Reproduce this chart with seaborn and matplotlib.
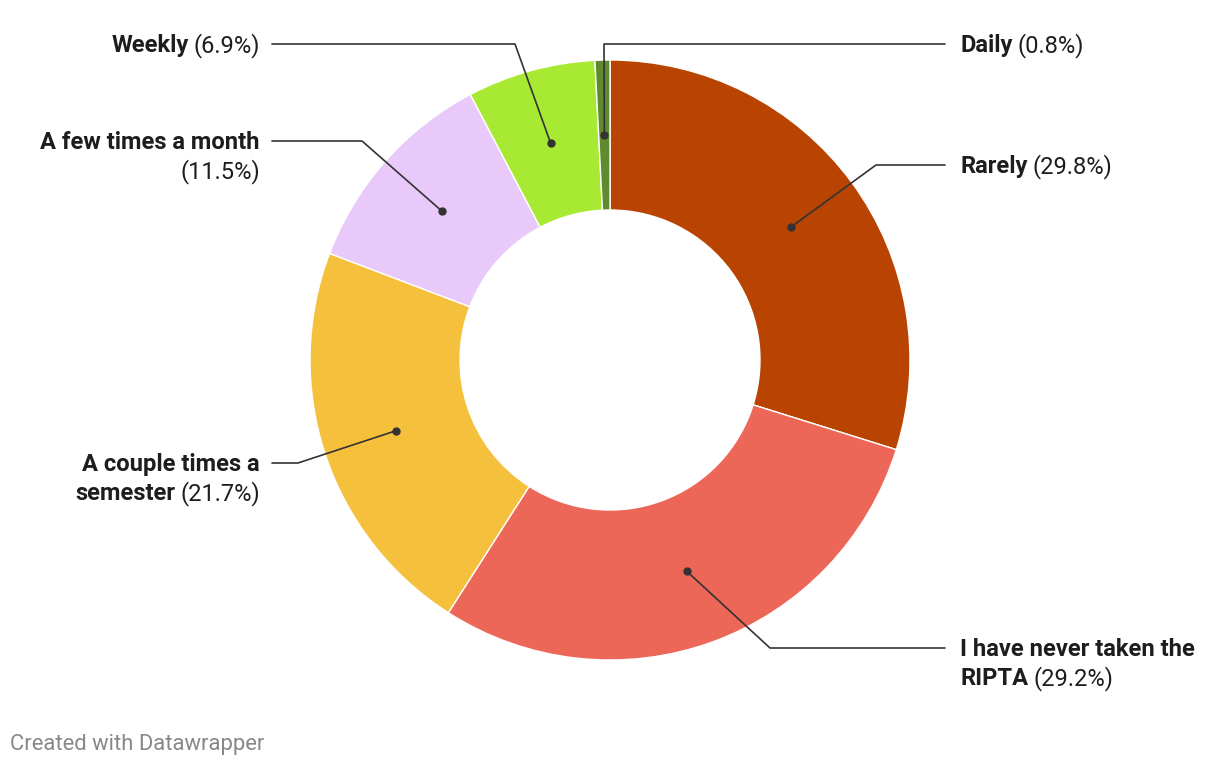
import matplotlib
matplotlib.use("Agg")
import matplotlib.pyplot as plt
import seaborn as sns
import numpy as np

sns.set_theme(style="white")
plt.rcParams['font.family'] = ['Roboto', 'DejaVu Sans']

# ---- data ----
categories = ["Rarely", "I have never taken the RIPTA", "A couple times a semester",
              "A few times a month", "Weekly", "Daily"]
values = [29.8, 29.2, 21.7, 11.5, 6.9, 0.8]
colors = ["#b94402", "#ec6758", "#f5c03b", "#e8c9f9", "#a8e933", "#5f8a2d"]

# label layout: bold lines (name wrapped), whether pct goes on own line
name_lines = {
    "Rarely": ["Rarely"],
    "I have never taken the RIPTA": ["I have never taken the", "RIPTA"],
    "A couple times a semester": ["A couple times a", "semester"],
    "A few times a month": ["A few times a month"],
    "Weekly": ["Weekly"],
    "Daily": ["Daily"],
}
pct_own_line = {"A few times a month"}
# (side, label y of first line, elbow x)
layout = {
    "Rarely": ("right", 165, 876),
    "I have never taken the RIPTA": ("right", 648, 770),
    "A couple times a semester": ("left", 463, 298),
    "A few times a month": ("left", 141, 362),
    "Weekly": ("left", 44, 515),
    "Daily": ("right", 44, 604),
}

W, H = 1220, 766
fig = plt.figure(figsize=(W / 100, H / 100), dpi=100)
ax = fig.add_axes([0, 0, 1, 1])
cx, cy, R, width = 610, 360, 300, 150

wedges, _ = ax.pie(values, colors=colors, startangle=-90, counterclock=True,
                   center=(cx, cy), radius=R, frame=True,
                   wedgeprops=dict(width=width, edgecolor="white", linewidth=1))
ax.set_xlim(0, W)
ax.set_ylim(H, 0)
ax.set_aspect("equal")
ax.axis("off")

FS = 17.1
LINE_H = 29
line_col = "#333333"
x_right_label, x_right_line = 960, 945
x_left_label, x_left_line = 260, 272

renderer = fig.canvas.get_renderer()

def text_w(t):
    return t.get_window_extent(renderer).width

def draw_line_segments(segs, x, y, align):
    gap = 5
    if align == "left":
        cur = x
        for s, wgt in segs:
            t = ax.text(cur, y, s, fontsize=FS, fontweight=wgt, color="#1d1d1d",
                        ha="left", va="baseline")
            cur += text_w(t) + gap
    else:
        cur = x
        for s, wgt in reversed(segs):
            t = ax.text(cur, y, s, fontsize=FS, fontweight=wgt, color="#1d1d1d",
                        ha="right", va="baseline")
            cur -= text_w(t) + gap

for w, cat, val in zip(wedges, categories, values):
    mid = np.deg2rad((w.theta1 + w.theta2) / 2)
    rmid = R - width / 2
    dx, dy = cx + rmid * np.cos(mid), cy + rmid * np.sin(mid)
    side, ly, ex = layout[cat]
    lx = x_right_line if side == "right" else x_left_line
    ax.plot([dx, ex, lx], [dy, ly, ly], color=line_col, lw=1.2, zorder=3)
    ax.plot([dx], [dy], "o", color=line_col, ms=5, zorder=4)

    pct = f"({val}%)"
    lines = [[(s, "bold")] for s in name_lines[cat]]
    if cat in pct_own_line:
        lines.append([(pct, "normal")])
    else:
        lines[-1].append((pct, "normal"))
    align = "left" if side == "right" else "right"
    xl = x_right_label if side == "right" else x_left_label
    for i, segs in enumerate(lines):
        draw_line_segments(segs, xl, ly + 8 + i * LINE_H, align)

ax.text(10, 750, "Created with Datawrapper", fontsize=15.8, color="#888888",
        ha="left", va="baseline")

fig.savefig("out.png", dpi=100)
